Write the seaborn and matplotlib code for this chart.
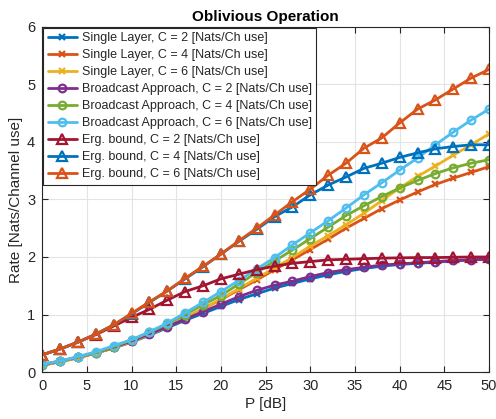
import matplotlib
matplotlib.use("Agg")
import matplotlib.pyplot as plt
import seaborn as sns
import numpy as np

# SNR grid [dB]
P_dB = list(range(0, 51, 2))

single_c2 = [0.12, 0.18, 0.25, 0.33, 0.42, 0.52, 0.64, 0.77, 0.90, 1.02, 1.14, 1.26, 1.36,
             1.46, 1.54, 1.62, 1.69, 1.75, 1.80, 1.84, 1.87, 1.89, 1.91, 1.93, 1.95, 1.96]
single_c4 = [0.12, 0.18, 0.25, 0.33, 0.42, 0.53, 0.65, 0.79, 0.94, 1.10, 1.26, 1.43, 1.60,
             1.78, 1.95, 2.13, 2.31, 2.50, 2.67, 2.84, 2.99, 3.13, 3.26, 3.37, 3.47, 3.57]
single_c6 = [0.12, 0.18, 0.25, 0.33, 0.42, 0.53, 0.65, 0.79, 0.94, 1.10, 1.27, 1.45, 1.63,
             1.81, 1.99, 2.19, 2.37, 2.56, 2.76, 2.98, 3.20, 3.40, 3.58, 3.77, 3.95, 4.14]
bc_c2 = [0.13, 0.19, 0.26, 0.34, 0.43, 0.54, 0.66, 0.79, 0.92, 1.05, 1.18, 1.31, 1.42,
         1.51, 1.58, 1.66, 1.73, 1.78, 1.82, 1.86, 1.88, 1.90, 1.92, 1.94, 1.95, 1.96]
bc_c4 = [0.13, 0.19, 0.26, 0.34, 0.44, 0.56, 0.69, 0.84, 1.00, 1.17, 1.33, 1.53, 1.73,
         1.93, 2.12, 2.32, 2.52, 2.72, 2.89, 3.05, 3.20, 3.33, 3.45, 3.55, 3.63, 3.69]
bc_c6 = [0.14, 0.19, 0.27, 0.35, 0.46, 0.56, 0.70, 0.85, 1.03, 1.21, 1.40, 1.59, 1.79,
         1.99, 2.21, 2.42, 2.63, 2.85, 3.08, 3.29, 3.51, 3.72, 3.95, 4.17, 4.38, 4.57]
erg_c2 = [0.30, 0.40, 0.52, 0.65, 0.80, 0.95, 1.09, 1.25, 1.40, 1.50, 1.62, 1.70, 1.78,
          1.84, 1.89, 1.92, 1.95, 1.96, 1.97, 1.98, 1.985, 1.99, 1.99, 1.995, 2.0, 2.0]
erg_c4 = [0.30, 0.40, 0.52, 0.66, 0.82, 1.01, 1.21, 1.41, 1.62, 1.83, 2.05, 2.27, 2.48,
          2.70, 2.87, 3.08, 3.25, 3.39, 3.54, 3.63, 3.73, 3.81, 3.88, 3.92, 3.95, 3.95]
erg_c6 = [0.30, 0.40, 0.52, 0.66, 0.82, 1.02, 1.22, 1.41, 1.63, 1.84, 2.05, 2.28, 2.50,
          2.73, 2.96, 3.18, 3.42, 3.63, 3.89, 4.07, 4.33, 4.57, 4.73, 4.92, 5.11, 5.26]

series = [
    ("Single Layer, C = 2 [Nats/Ch use]", single_c2, "#0072BD", "x"),
    ("Single Layer, C = 4 [Nats/Ch use]", single_c4, "#D95319", "x"),
    ("Single Layer, C = 6 [Nats/Ch use]", single_c6, "#EDB120", "x"),
    ("Broadcast Approach, C = 2 [Nats/Ch use]", bc_c2, "#7E2F8E", "o"),
    ("Broadcast Approach, C = 4 [Nats/Ch use]", bc_c4, "#77AC30", "o"),
    ("Broadcast Approach, C = 6 [Nats/Ch use]", bc_c6, "#4DBEEE", "o"),
    ("Erg. bound, C = 2 [Nats/Ch use]", erg_c2, "#A2142F", "^"),
    ("Erg. bound, C = 4 [Nats/Ch use]", erg_c4, "#0072BD", "^"),
    ("Erg. bound, C = 6 [Nats/Ch use]", erg_c6, "#D95319", "^"),
]

sns.set_theme(style="whitegrid")
plt.rcParams['font.family'] = ['Liberation Sans', 'DejaVu Sans']

fig = plt.figure(figsize=(4.96, 4.19), dpi=100)
ax = fig.add_axes([0.085, 0.112, 0.901, 0.824])

for label, vals, col, mk in series:
    if mk == "x":
        kw = dict(markersize=5, markeredgewidth=1.6)
    elif mk == "o":
        kw = dict(markersize=5.5, markerfacecolor="none", markeredgewidth=1.6)
    else:
        kw = dict(markersize=6.5, markerfacecolor="none", markeredgewidth=1.6)
    sns.lineplot(x=P_dB, y=vals, ax=ax, color=col, marker=mk, linewidth=2,
                 label=label, markeredgecolor=col, **kw)

ax.set_xlim(0, 50)
ax.set_ylim(0, 6)
ax.set_xticks(np.arange(0, 51, 5))
ax.set_yticks(np.arange(0, 7, 1))
ax.set_facecolor("white")
ax.grid(True, color="#e3e3e3", linewidth=0.8)
for s in ax.spines.values():
    s.set_color("#262626")
    s.set_linewidth(0.8)
ax.tick_params(direction="in", length=4, width=0.8, colors="#262626",
               labelsize=10.5, top=True, right=True, bottom=True, left=True, pad=5)
ax.set_xlabel("P [dB]", fontsize=11, color="#262626", labelpad=3)
ax.set_ylabel("Rate [Nats/Channel use]", fontsize=11, color="#262626", labelpad=3)
ax.set_title("Oblivious Operation", fontsize=11, fontweight="bold", color="black", pad=4)

leg = ax.legend(loc="upper left", fontsize=9, frameon=True, fancybox=False,
                handlelength=2.3, borderaxespad=0.1, labelspacing=0.4,
                borderpad=0.35, handletextpad=0.4)
leg.get_frame().set_edgecolor("#262626")
leg.get_frame().set_linewidth(0.8)
leg.get_frame().set_alpha(1)

fig.savefig("out.png", dpi=100)
